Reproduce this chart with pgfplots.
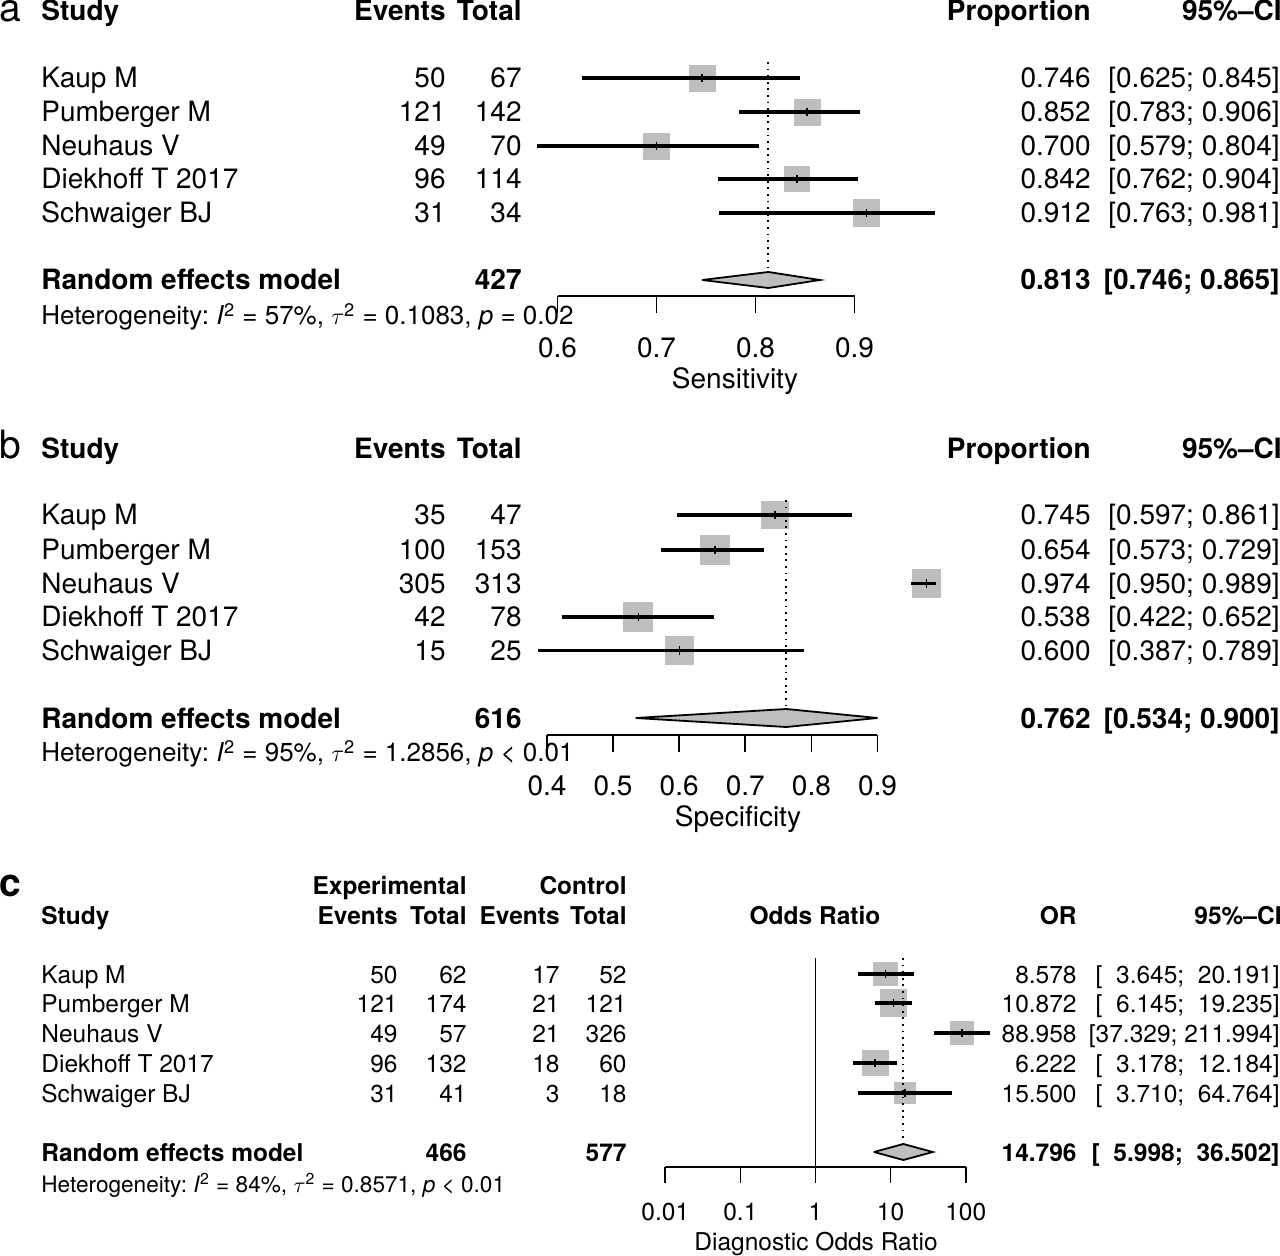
\documentclass[border=0pt]{standalone}
\usepackage{fontspec}
\setmainfont{TeX Gyre Heros}
\usepackage{pgfplots}
\pgfplotsset{compat=1.18}
\usepackage{pgfplotstable}
\definecolor{sqgray}{RGB}{190,190,190}
\newcommand{\fa}{\fontsize{14}{16}\selectfont}
\newcommand{\fc}{\fontsize{12.25}{14}\selectfont}
\newcommand{\fha}{\fontsize{13}{15}\selectfont\frenchspacing}
\newcommand{\fhc}{\fontsize{11.3}{13}\selectfont\frenchspacing}
\newcommand{\tlft}[3]{\node[anchor=base west] at (#1,#2) {#3};}
\newcommand{\trgt}[3]{\node[anchor=base east] at (#1,#2) {#3};}
\newcommand{\tctr}[3]{\node[anchor=base] at (#1,#2) {#3};}

% ---------- panel a : sensitivity ----------
\pgfplotstableread{
est lo hi y s
0.746 0.625 0.845 -78 6.5
0.852 0.783 0.906 -112 6.5
0.700 0.579 0.804 -146 6.5
0.842 0.762 0.904 -179 6.3
0.912 0.763 0.981 -213 6.7
}\studA
\pgfplotstableread{
x y
0.625 -78
0.845 -78
nan nan
0.783 -112
0.906 -112
nan nan
0.579 -146
0.804 -146
nan nan
0.762 -179
0.904 -179
nan nan
0.763 -213
0.981 -213
}\ciA
% ---------- panel b : specificity ----------
\pgfplotstableread{
est lo hi y s
0.745 0.597 0.861 -515 6.9
0.654 0.573 0.729 -550 7.2
0.974 0.950 0.989 -583.5 6.9
0.538 0.422 0.652 -617 7.2
0.600 0.387 0.789 -650.5 6.9
}\studB
\pgfplotstableread{
x y
0.597 -515
0.861 -515
nan nan
0.573 -550
0.729 -550
nan nan
0.950 -583.5
0.989 -583.5
nan nan
0.422 -617
0.652 -617
nan nan
0.387 -650.5
0.789 -650.5
}\ciB
% ---------- panel c : diagnostic odds ratio ----------
\pgfplotstableread{
est lo hi y s
8.578 3.645 20.191 -974 5.9
10.872 6.145 19.235 -1003 6.6
88.958 37.329 211.994 -1033 5.9
6.222 3.178 12.184 -1063 6.4
15.500 3.710 64.764 -1093 5.2
}\studC
\pgfplotstableread{
x y
3.645 -974
20.191 -974
nan nan
6.145 -1003
19.235 -1003
nan nan
37.329 -1033
211.994 -1033
nan nan
3.178 -1063
12.184 -1063
nan nan
3.710 -1093
64.764 -1093
}\ciC

\pgfplotsset{
 forest/.style={
  scale only axis, clip=false, clip marker paths=true, anchor=south west,
  axis x line=bottom, axis y line=none,
  axis line style={-, line width=0.9pt, black},
  tick align=outside, major tick length=8.5pt,
  xtick style={line width=0.9pt, black},
  ytick=\empty, enlargelimits=false,
  /pgf/number format/assume math mode=true,
  xticklabel style={font=\fa, anchor=base, inner sep=0pt},
  unbounded coords=jump,
 },
 sq/.style={scatter, only marks, mark=square*,
  scatter/use mapped color={draw=sqgray, fill=sqgray},
  visualization depends on={\thisrow{s} \as \msz},
  scatter/@pre marker code/.append style={/tikz/mark size=\msz}},
 ciline/.style={black, line width=1.6pt, mark=none},
 estmark/.style={black, only marks, mark=|, mark size=2.2pt, mark options={line width=0.65pt}},
 dotline/.style={black, line width=1pt, dash pattern=on 0.9pt off 2.4pt, mark=none},
 diamond/.style={fill=sqgray, draw=black, line width=0.9pt, mark=none},
}

\begin{document}
\begin{tikzpicture}
\path[use as bounding box] (0,0) rectangle (640pt,-628pt);

% ===== axis a =====
\begin{axis}[forest, at={(278.75pt,-148pt)}, width=148.5pt, height=128pt,
  xmin=0.6, xmax=0.9, ymin=-296, ymax=-40,
  xtick={0.6,0.7,0.8,0.9}, xticklabels={0.6,0.7,0.8,0.9},
  xticklabel style={yshift=-22.5pt}]
\addplot[sq] table[x=est,y=y] {\studA};
\addplot[ciline] table {\ciA};
\addplot[estmark] table[x=est,y=y] {\studA};
\addplot[dotline] coordinates {(0.813,-62) (0.813,-272)};
\addplot[diamond] coordinates {(0.746,-280) (0.813,-272) (0.865,-280) (0.813,-288) (0.746,-280)};
\end{axis}

% ===== axis b =====
\begin{axis}[forest, at={(273.5pt,-367.5pt)}, width=165.25pt, height=127.5pt,
  xmin=0.4, xmax=0.9, ymin=-735, ymax=-480,
  xtick={0.4,0.5,0.6,0.7,0.8,0.9}, xticklabels={0.4,0.5,0.6,0.7,0.8,0.9},
  xticklabel style={yshift=-21.5pt}]
\addplot[sq] table[x=est,y=y] {\studB};
\addplot[ciline] table {\ciB};
\addplot[estmark] table[x=est,y=y] {\studB};
\addplot[dotline] coordinates {(0.762,-500) (0.762,-709)};
\addplot[diamond] coordinates {(0.534,-718) (0.762,-709) (0.900,-718) (0.762,-727) (0.534,-718)};
\end{axis}

% ===== axis c =====
\begin{axis}[forest, xmode=log, at={(332.65pt,-583.35pt)}, width=150.2pt, height=110.85pt,
  xmin=0.01, xmax=100, ymin=-1166.7, ymax=-945,
  major tick length=8pt, xminorticks=false,
  xtick={0.01,0.1,1,10,100}, xticklabels={0.01,0.1,1,10,100},
  xticklabel style={font=\fc, yshift=-18.65pt}]
\addplot[black, line width=0.6pt, mark=none] coordinates {(1,-958) (1,-1166.7)};
\addplot[sq] table[x=est,y=y] {\studC};
\addplot[ciline] table {\ciC};
\addplot[estmark] table[x=est,y=y] {\studC};
\addplot[dotline] coordinates {(14.796,-958) (14.796,-1144)};
\addplot[diamond] coordinates {(5.998,-1152) (14.796,-1144) (36.502,-1152) (14.796,-1160) (5.998,-1152)};
\end{axis}

\begin{scope}[x=0.5pt, y=-0.5pt, every node/.style={inner sep=0pt, font=\fa}]
% ----- panel a text -----
\tlft{-1}{22}{\fontsize{19.5}{20}\selectfont a}
\tlft{41}{21}{\bfseries Study}
\trgt{446}{21}{\bfseries Events}
\trgt{522}{21}{\bfseries Total}
\trgt{1091}{21}{\bfseries Proportion}
\trgt{1282}{21}{\bfseries 95\%--CI}
\tlft{41}{88}{Kaup M}\trgt{446}{88}{50}\trgt{522}{88}{67}\trgt{1091}{88}{0.746}\trgt{1280}{88}{[0.625; 0.845]}
\tlft{41}{122}{Pumberger M}\trgt{446}{122}{121}\trgt{522}{122}{142}\trgt{1091}{122}{0.852}\trgt{1280}{122}{[0.783; 0.906]}
\tlft{41}{156}{Neuhaus V}\trgt{446}{156}{49}\trgt{522}{156}{70}\trgt{1091}{156}{0.700}\trgt{1280}{156}{[0.579; 0.804]}
\tlft{41}{189}{Diekhoff T 2017}\trgt{446}{189}{96}\trgt{522}{189}{114}\trgt{1091}{189}{0.842}\trgt{1280}{189}{[0.762; 0.904]}
\tlft{41}{223}{Schwaiger BJ}\trgt{446}{223}{31}\trgt{522}{223}{34}\trgt{1091}{223}{0.912}\trgt{1280}{223}{[0.763; 0.981]}
\tlft{41}{290}{\bfseries Random effects model}\trgt{522}{290}{\bfseries 427}\trgt{1091}{290}{\bfseries 0.813}\trgt{1280}{290}{\bfseries [0.746; 0.865]}
\tlft{41}{325}{\fha Heterogeneity: \textit{I}\textsuperscript{2} = 57\%, $\tau$\textsuperscript{2} = 0.1083, \textit{p} = 0.02}
\tctr{735}{389}{Sensitivity}
% ----- panel b text -----
\tlft{-1}{459}{\fontsize{19.5}{20}\selectfont b}
\tlft{41}{459}{\bfseries Study}
\trgt{446}{459}{\bfseries Events}
\trgt{522}{459}{\bfseries Total}
\trgt{1091}{459}{\bfseries Proportion}
\trgt{1282}{459}{\bfseries 95\%--CI}
\tlft{41}{525}{Kaup M}\trgt{446}{525}{35}\trgt{522}{525}{47}\trgt{1091}{525}{0.745}\trgt{1280}{525}{[0.597; 0.861]}
\tlft{41}{560}{Pumberger M}\trgt{446}{560}{100}\trgt{522}{560}{153}\trgt{1091}{560}{0.654}\trgt{1280}{560}{[0.573; 0.729]}
\tlft{41}{593.5}{Neuhaus V}\trgt{446}{593.5}{305}\trgt{522}{593.5}{313}\trgt{1091}{593.5}{0.974}\trgt{1280}{593.5}{[0.950; 0.989]}
\tlft{41}{627}{Diekhoff T 2017}\trgt{446}{627}{42}\trgt{522}{627}{78}\trgt{1091}{627}{0.538}\trgt{1280}{627}{[0.422; 0.652]}
\tlft{41}{660.5}{Schwaiger BJ}\trgt{446}{660.5}{15}\trgt{522}{660.5}{25}\trgt{1091}{660.5}{0.600}\trgt{1280}{660.5}{[0.387; 0.789]}
\tlft{41}{728}{\bfseries Random effects model}\trgt{522}{728}{\bfseries 616}\trgt{1091}{728}{\bfseries 0.762}\trgt{1280}{728}{\bfseries [0.534; 0.900]}
\tlft{41}{762}{\fha Heterogeneity: \textit{I}\textsuperscript{2} = 95\%, $\tau$\textsuperscript{2} = 1.2856, \textit{p} < 0.01}
\tctr{738}{826}{Specificity}
% ----- panel c text -----
\begin{scope}[every node/.style={inner sep=0pt, font=\fc}]
\tlft{-1}{896}{\fontsize{19.5}{20}\selectfont\bfseries c}
\trgt{467}{894}{\bfseries Experimental}
\trgt{627}{894}{\bfseries Control}
\tlft{41}{924}{\bfseries Study}
\trgt{398}{924}{\bfseries Events}\trgt{467}{924}{\bfseries Total}
\trgt{560}{924}{\bfseries Events}\trgt{627}{924}{\bfseries Total}
\tctr{815}{924}{\bfseries Odds Ratio}
\trgt{1077}{924}{\bfseries OR}
\trgt{1282}{924}{\bfseries 95\%--CI}
\tlft{41}{983}{Kaup M}\trgt{398}{983}{50}\trgt{467}{983}{62}\trgt{560}{983}{17}\trgt{627}{983}{52}\trgt{1077}{983}{8.578}\trgt{1280}{983}{[\hphantom{0}3.645;\ \ 20.191]}
\tlft{41}{1012}{Pumberger M}\trgt{398}{1012}{121}\trgt{467}{1012}{174}\trgt{560}{1012}{21}\trgt{627}{1012}{121}\trgt{1077}{1012}{10.872}\trgt{1280}{1012}{[\hphantom{0}6.145;\ \ 19.235]}
\tlft{41}{1042}{Neuhaus V}\trgt{398}{1042}{49}\trgt{467}{1042}{57}\trgt{560}{1042}{21}\trgt{627}{1042}{326}\trgt{1077}{1042}{88.958}\trgt{1280}{1042}{[37.329; 211.994]}
\tlft{41}{1072}{Diekhoff T 2017}\trgt{398}{1072}{96}\trgt{467}{1072}{132}\trgt{560}{1072}{18}\trgt{627}{1072}{60}\trgt{1077}{1072}{6.222}\trgt{1280}{1072}{[\hphantom{0}3.178;\ \ 12.184]}
\tlft{41}{1102}{Schwaiger BJ}\trgt{398}{1102}{31}\trgt{467}{1102}{41}\trgt{560}{1102}{3}\trgt{627}{1102}{18}\trgt{1077}{1102}{15.500}\trgt{1280}{1102}{[\hphantom{0}3.710;\ \ 64.764]}
\tlft{41}{1161}{\bfseries Random effects model}\trgt{467}{1161}{\bfseries 466}\trgt{627}{1161}{\bfseries 577}\trgt{1077}{1161}{\bfseries 14.796}\trgt{1280}{1161}{\bfseries [\hphantom{0}5.998;\ \ 36.502]}
\tlft{41}{1192}{\fhc Heterogeneity: \textit{I}\textsuperscript{2} = 84\%, $\tau$\textsuperscript{2} = 0.8571, \textit{p} < 0.01}
\tctr{816}{1250}{Diagnostic Odds Ratio}
\end{scope}
\end{scope}
\end{tikzpicture}
\end{document}
